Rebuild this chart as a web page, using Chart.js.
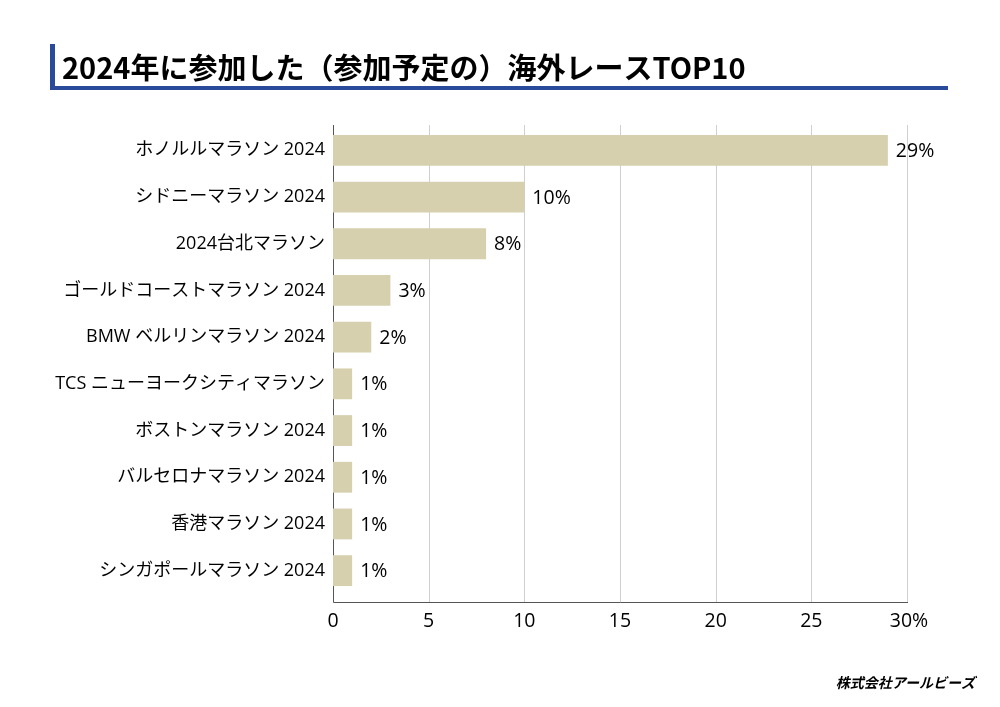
<!DOCTYPE html>
<html>
<head>
<meta charset="utf-8">
<script src="https://cdn.jsdelivr.net/npm/chart.js@4/dist/chart.umd.min.js"></script>
<style>
  html, body { margin: 0; padding: 0; background: #fff; }
  #wrap { width: 1000px; height: 707px; position: relative; }
</style>
</head>
<body>
<div id="wrap"><canvas id="barChart"></canvas></div>
<script>
const races = [
  'ホノルルマラソン 2024',
  'シドニーマラソン 2024',
  '2024台北マラソン',
  'ゴールドコーストマラソン 2024',
  'BMW ベルリンマラソン 2024',
  'TCS ニューヨークシティマラソン',
  'ボストンマラソン 2024',
  'バルセロナマラソン 2024',
  '香港マラソン 2024',
  'シンガポールマラソン 2024',
];
const shares = [29, 10, 8, 3, 2, 1, 1, 1, 1, 1];
const xTicks = [0, 5, 10, 15, 20, 25, 30];

const FONT = '"Noto Sans CJK JP", "Noto Sans", sans-serif';
const LATIN = '"Open Sans", "Noto Sans CJK JP", sans-serif';
const TITLE = '2024年に参加した（参加予定の）海外レースTOP10';

/* title, footer, grid lines and value labels */
const decor = {
  id: 'decor',
  beforeDatasetsDraw(chart) {
    const { ctx, chartArea: a, scales: { x } } = chart;
    const bottom = a.bottom + 8;
    ctx.save();
    ctx.lineWidth = 1;
    ctx.strokeStyle = '#cfcfcf';
    xTicks.forEach((t) => {
      if (t === 0) return;
      const px = Math.round(x.getPixelForValue(t)) + 0.5;
      ctx.beginPath();
      ctx.moveTo(px, a.top - 2);
      ctx.lineTo(px, bottom);
      ctx.stroke();
    });
    ctx.strokeStyle = '#555';
    ctx.beginPath();
    ctx.moveTo(a.left + 0.5, a.top - 2);
    ctx.lineTo(a.left + 0.5, bottom + 0.5);
    ctx.lineTo(Math.round(x.getPixelForValue(30)) + 1, bottom + 0.5);
    ctx.stroke();
    ctx.restore();
  },
  afterDraw(chart) {
    const { ctx, chartArea: a, scales: { x } } = chart;
    ctx.save();
    // title block
    ctx.fillStyle = '#2a4a9c';
    ctx.fillRect(50, 44, 5, 46);
    ctx.fillRect(50, 86, 898, 4);
    ctx.fillStyle = '#000';
    ctx.font = 'bold 29px ' + FONT;
    ctx.textBaseline = 'middle';
    ctx.textAlign = 'left';
    ctx.fillText(TITLE, 62, 68, 684);
    // value labels
    ctx.font = '19.5px ' + LATIN;
    const meta = chart.getDatasetMeta(0);
    meta.data.forEach((bar, i) => {
      ctx.fillText(shares[i] + '%', bar.x + 8, bar.y + 1);
    });
    // x tick labels
    ctx.textAlign = 'center';
    xTicks.forEach((t) => {
      const lbl = t === 30 ? '30%' : String(t);
      const px = x.getPixelForValue(t) + (t === 30 ? 2 : 0);
      ctx.fillText(lbl, px, a.bottom + 27);
    });
    // footer
    ctx.font = 'italic bold 14px ' + FONT;
    ctx.textAlign = 'right';
    ctx.fillText('株式会社アールビーズ', 975, 683);
    ctx.restore();
  },
};

new Chart(document.getElementById('barChart'), {
  type: 'bar',
  data: {
    labels: races,
    datasets: [
      {
        data: shares,
        backgroundColor: '#d6d0ae',
        borderWidth: 0,
        barPercentage: 0.66,
        categoryPercentage: 1,
      },
    ],
  },
  options: {
    indexAxis: 'y',
    responsive: true,
    maintainAspectRatio: false,
    animation: false,
    layout: { padding: { top: 127, right: 93, left: 0, bottom: 0 } },
    plugins: {
      legend: { display: false },
      tooltip: { enabled: false },
    },
    scales: {
      x: {
        min: 0,
        max: 30,
        grid: { display: false },
        border: { display: false },
        ticks: { display: false, stepSize: 5 },
        afterFit(s) { s.height = 113; },
      },
      y: {
        grid: { display: false },
        border: { display: false },
        ticks: {
          color: '#000',
          padding: 0,
          font: { family: LATIN, size: 18 },
        },
        afterFit(s) { s.width = 333; },
      },
    },
  },
  plugins: [decor],
});
</script>
</body>
</html>
